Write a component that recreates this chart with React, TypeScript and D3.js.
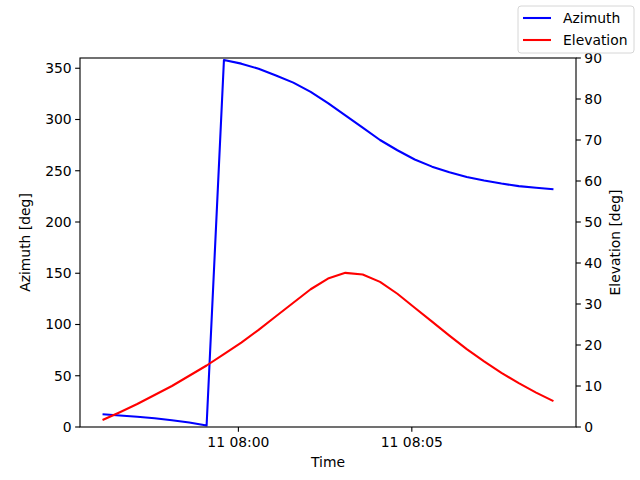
import React from "react"
import * as d3 from "d3"

// 30 s samples starting 07:56:05
const startTime = new Date(2000, 0, 11, 7, 56, 5)
const stepSeconds = 30

const azimuth = [
  12.4, 11.2, 10.0, 8.5, 6.5, 4.3, 1.5, 358, 354.5, 349.5, 343, 336, 327, 316,
  304, 292, 280, 270, 261, 254, 248.5, 244, 240.5, 237.5, 235, 233.5, 232,
]
const elevation = [
  1.7, 3.6, 5.6, 7.8, 10.0, 12.5, 15.0, 17.8, 20.6, 23.7, 27.0, 30.3, 33.6,
  36.2, 37.6, 37.2, 35.4, 32.5, 29.1, 25.7, 22.3, 19.0, 16.0, 13.2, 10.7, 8.4,
  6.3,
]
const azTicks = [0, 50, 100, 150, 200, 250, 300, 350]
const elTicks = [0, 10, 20, 30, 40, 50, 60, 70, 80, 90]

interface Pt {
  time: Date
  value: number
}

const times = azimuth.map(
  (_, i) => new Date(startTime.getTime() + i * stepSeconds * 1000)
)
const azData: Pt[] = azimuth.map((v, i) => ({ time: times[i], value: v }))
const elData: Pt[] = elevation.map((v, i) => ({ time: times[i], value: v }))

const W = 640
const H = 480
const margin = { top: 58, right: 64, bottom: 53, left: 80 }
const font = "DejaVu Sans, sans-serif"
const fs = 13.9
const lw = 2.08 // 1.5pt at 100 dpi
const sw = 1.11 // spines / ticks 0.8pt

export default function App() {
  const innerW = W - margin.left - margin.right
  const innerH = H - margin.top - margin.bottom

  const [t0, t1] = d3.extent(times) as [Date, Date]
  const pad = (t1.getTime() - t0.getTime()) * 0.05
  const x = d3
    .scaleTime()
    .domain([new Date(t0.getTime() - pad), new Date(t1.getTime() + pad)])
    .range([0, innerW])
  const yAz = d3.scaleLinear().domain([0, 360]).range([innerH, 0])
  const yEl = d3.scaleLinear().domain([0, 90]).range([innerH, 0])

  const xTicks = x.ticks(d3.timeMinute.every(5)!)
  const fmt = d3.timeFormat("%d %H:%M")

  const azLine = d3
    .line<Pt>()
    .x((d) => x(d.time))
    .y((d) => yAz(d.value))
  const elLine = d3
    .line<Pt>()
    .x((d) => x(d.time))
    .y((d) => yEl(d.value))

  const tick = 4.86

  return (
    <svg
      width={W}
      height={H}
      style={{ position: "absolute", left: 0, top: 0, fontFamily: font }}
    >
      <rect width={W} height={H} fill="white" />
      <g transform={`translate(${margin.left},${margin.top})`}>
        <path
          d={azLine(azData)!}
          fill="none"
          stroke="blue"
          strokeWidth={lw}
          strokeLinejoin="round"
        />
        <path
          d={elLine(elData)!}
          fill="none"
          stroke="red"
          strokeWidth={lw}
          strokeLinejoin="round"
        />
        <rect
          width={innerW}
          height={innerH}
          fill="none"
          stroke="black"
          strokeWidth={sw}
        />

        {/* x axis */}
        {xTicks.map((t) => (
          <g key={t.getTime()} transform={`translate(${x(t)},${innerH})`}>
            <line y2={tick} stroke="black" strokeWidth={sw} />
            <text y={tick + 15} textAnchor="middle" fontSize={fs} fill="black">
              {fmt(t)}
            </text>
          </g>
        ))}
        <text
          x={innerW / 2}
          y={innerH + 40}
          textAnchor="middle"
          fontSize={fs}
          fill="black"
        >
          Time
        </text>

        {/* left axis */}
        {azTicks.map((t) => (
          <g key={t} transform={`translate(0,${yAz(t)})`}>
            <line x2={-tick} stroke="black" strokeWidth={sw} />
            <text
              x={-tick - 3.5}
              dy="0.35em"
              textAnchor="end"
              fontSize={fs}
              fill="black"
            >
              {t}
            </text>
          </g>
        ))}
        <text
          transform={`translate(${-50},${innerH / 2}) rotate(-90)`}
          textAnchor="middle"
          fontSize={fs}
          fill="black"
        >
          Azimuth [deg]
        </text>

        {/* right axis */}
        {elTicks.map((t) => (
          <g key={t} transform={`translate(${innerW},${yEl(t)})`}>
            <line x2={tick} stroke="black" strokeWidth={sw} />
            <text
              x={tick + 3.5}
              dy="0.35em"
              textAnchor="start"
              fontSize={fs}
              fill="black"
            >
              {t}
            </text>
          </g>
        ))}
        <text
          transform={`translate(${innerW + 44},${innerH / 2}) rotate(-90)`}
          textAnchor="middle"
          fontSize={fs}
          fill="black"
        >
          Elevation [deg]
        </text>
      </g>

      {/* legend */}
      <g transform="translate(518,6)">
        <rect
          width={116}
          height={47}
          rx={3}
          fill="white"
          fillOpacity={0.8}
          stroke="#d6d6d6"
          strokeWidth={1}
        />
        <line x1={5} x2={33} y1={12} y2={12} stroke="blue" strokeWidth={lw} />
        <text x={45} y={12} dy="0.35em" fontSize={fs} fill="black">
          Azimuth
        </text>
        <line x1={5} x2={33} y1={34} y2={34} stroke="red" strokeWidth={lw} />
        <text x={45} y={34} dy="0.35em" fontSize={fs} fill="black">
          Elevation
        </text>
      </g>
    </svg>
  )
}
